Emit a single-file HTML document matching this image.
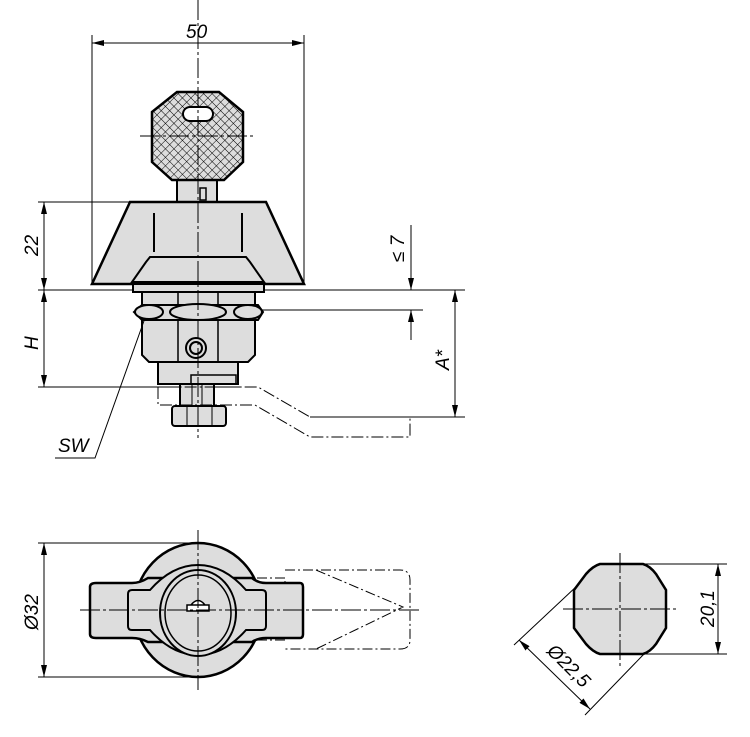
<!DOCTYPE html>
<html><head><meta charset="utf-8"><style>body{margin:0;background:#fff}svg{display:block}text{font-family:"Liberation Sans Narrow","Liberation Sans",sans-serif;font-style:italic;font-size:19px;fill:#000}</style></head><body>
<svg width="750" height="737" viewBox="0 0 750 737" xmlns="http://www.w3.org/2000/svg">
<defs>
<marker id="a" viewBox="0 0 12 6" refX="12" refY="3" markerWidth="12" markerHeight="6" orient="auto-start-reverse" markerUnits="userSpaceOnUse"><path d="M0,0L12,3L0,6z" fill="#000"/></marker>
<pattern id="h" width="6" height="6" patternUnits="userSpaceOnUse" patternTransform="rotate(45)"><rect width="6" height="6" fill="#ddd"/><path d="M0,0H6M0,0V6" stroke="#000" stroke-width="1"/></pattern>
</defs>
<g stroke="#000" fill="none" stroke-width="1">
<path d="M92,35V285M304,35V285"/>
<path d="M92,43H304" marker-start="url(#a)" marker-end="url(#a)"/>
<path d="M38,202H130M38,290H465M38,387H240M262,310H423M310,417H465"/>
<path d="M44,202V290" marker-start="url(#a)" marker-end="url(#a)"/>
<path d="M44,290V387" marker-start="url(#a)" marker-end="url(#a)"/>
<path d="M411,225V290" marker-end="url(#a)"/>
<path d="M411,340V310" marker-end="url(#a)"/>
<path d="M455,290V417" marker-start="url(#a)" marker-end="url(#a)"/>
<path d="M177,180V202H217V180" fill="#ddd" stroke-width="2"/>
<rect x="200" y="188" width="6" height="12" stroke-width="1.5"/>
<path d="M177,92H219L243,112V162L224,180H172L152,162V112Z" fill="url(#h)" stroke-width="2.5"/>
<rect x="183" y="107" width="30" height="14" rx="7" fill="#fff" stroke-width="2"/>
<path d="M130,202H266L304,284H92Z" fill="#ddd" stroke-width="2.5"/>
<path d="M154,213V252M242,213V252" stroke-width="2"/>
<path d="M146,262L150,257H246L250,262L264,282H132Z" fill="#ddd" stroke-width="2"/>
<rect x="133" y="284" width="131" height="8" fill="#ddd" stroke-width="2"/>
<path d="M142,292H255V355L248,362H149L142,355Z" fill="#ddd" stroke-width="2"/>
<path d="M178,292V362M218,292V362" stroke-width="1.5"/>
<path d="M134,312L142,305H258L263,312L258,320H142Z" fill="#ddd" stroke-width="2"/>
<ellipse cx="198" cy="312" rx="28" ry="8" fill="#ddd" stroke-width="2"/>
<ellipse cx="149" cy="312" rx="14" ry="7" fill="#ddd" stroke-width="2"/>
<ellipse cx="248" cy="312" rx="14" ry="7" fill="#ddd" stroke-width="2"/>
<circle cx="196" cy="348" r="10" fill="#ddd" stroke-width="2"/>
<circle cx="196" cy="348" r="6" stroke-width="2"/>
<rect x="158" y="362" width="80" height="22" fill="#ddd" stroke-width="2"/>
<path d="M191,375H236V384H191Z" stroke-width="1.5"/>
<rect x="180" y="384" width="34" height="22" fill="#ddd" stroke-width="2"/>
<path d="M192,384V406M202,384V406"/>
<rect x="172" y="406" width="54" height="20" rx="3" fill="#ddd" stroke-width="2"/>
<path d="M187,406V426M212,406V426"/>
<path d="M158,387V405H255L310,437H410V417H310L258,387Z" stroke-dasharray="12,3,2,3"/>
<path d="M145,318L95,458H55"/>
<path d="M198,0V438M140,136H256" stroke-dasharray="20,3,3,3"/>
<path d="M38,543H198M38,677H198"/>
<path d="M44,543V677" marker-start="url(#a)" marker-end="url(#a)"/>
<path d="M257,578H285V640H257M285,570H400Q410,570 410,580V640Q410,649 400,649H285M316,570L403,607L316,649" stroke-dasharray="10,3,2,3"/>
<ellipse cx="198" cy="610" rx="64" ry="67" fill="#ddd" stroke-width="2.5"/>
<path d="M96,583H132Q140,583 148,578H252Q258,583 266,583H300Q303,583 303,587V634Q303,638 300,638H266Q258,638 252,642H148Q140,638 132,638H96Q90,638 90,634V587Q90,583 96,583Z" fill="#ddd" stroke-width="2.5"/>
<path d="M132,590H150Q172,565 198,565Q224,565 246,590H262Q266,590 266,594V626Q266,630 262,630H246Q224,655 198,655Q172,655 150,630H132Q128,630 128,626V594Q128,590 132,590Z" fill="#ddd" stroke-width="2"/>
<ellipse cx="198" cy="613" rx="38" ry="43" fill="#ddd" stroke-width="2"/>
<ellipse cx="198" cy="613" rx="33" ry="38" stroke-width="1.5"/>
<path d="M187,605H209V611H187ZM191,605Q198,596 205,605" fill="#fff" stroke-width="1.5"/>
<path d="M80,610H420M198,530V690" stroke-dasharray="20,3,3,3"/>
<path d="M600,564H643Q650,566 656,574L666,590V628L656,644Q650,652 643,654H600Q593,652 586,644L574,628V590L586,574Q593,566 600,564Z" fill="#ddd" stroke-width="2.5"/>
<path d="M620,553V668M563,609H677" stroke-dasharray="20,3,3,3"/>
<path d="M643,564H727M643,654H727"/>
<path d="M718,564V654" marker-start="url(#a)" marker-end="url(#a)"/>
<path d="M578,585L514,645M644,654L585,715"/>
<path d="M519,640L590,709" marker-start="url(#a)" marker-end="url(#a)"/>
</g>
<text x="186" y="38">50</text>
<text transform="translate(38,256) rotate(-90)">22</text>
<text transform="translate(38,350) rotate(-90)">H</text>
<text transform="translate(404,262) rotate(-90)">≤ 7</text>
<text transform="translate(449,370) rotate(-90)">A*</text>
<text x="58" y="452">SW</text>
<text transform="translate(38,630) rotate(-90)">Ø32</text>
<text transform="translate(714,627) rotate(-90)">20,1</text>
<text transform="translate(546,652) rotate(45)">Ø22,5</text>
</svg>
</body></html>
